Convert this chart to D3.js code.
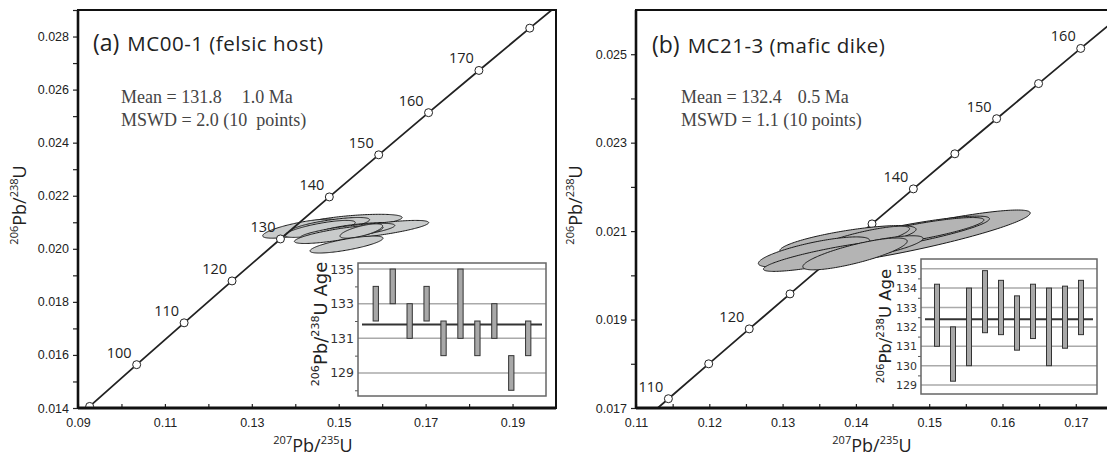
<!DOCTYPE html>
<html><head><meta charset="utf-8">
<script src="https://cdn.jsdelivr.net/npm/d3@7/dist/d3.min.js"></script>
<style>
body{margin:0;background:#fff}
svg{display:block}
text{font-family:"Liberation Sans",Arial,sans-serif}
.pre{white-space:pre}
</style></head><body>
<svg id="chart" width="1107" height="459"></svg>
<script>
// ---------- data ----------
// concordia reference points, panel a
var concAgeA = [90,100,110,120,130,140,150,160,170,180,190];
var concXA = [0.09268,0.10350,0.11442,0.12545,0.13659,0.14784,0.15920,0.17067,0.18226,0.19396,0.20577];
var concYA = [0.014059,0.015633,0.017210,0.018789,0.020371,0.021955,0.023542,0.025131,0.026722,0.028316,0.029912];
var concLabelA = [100,110,120,130,140,150,160,170];
// concordia reference points, panel b
var concAgeB = [105,110,115,120,125,130,135,140,145,150,155,160,165];
var concXB = [0.10895,0.11442,0.11992,0.12545,0.13101,0.13659,0.14220,0.14784,0.15350,0.15920,0.16492,0.17067,0.17645];
var concYB = [0.016421,0.017210,0.017999,0.018789,0.019580,0.020371,0.021163,0.021955,0.022748,0.023542,0.024336,0.025131,0.025926];
var concLabelB = [110,120,140,150,160];

// error ellipses: centre 207/235, centre 206/238, err x, err y, rho
var ellXA   = [0.1531,0.1411,0.1480,0.1457,0.1549,0.1579,0.1520,0.1500,0.1552,0.1518];
var ellYA   = [0.02103,0.02076,0.02088,0.02075,0.02075,0.02071,0.02065,0.02054,0.02067,0.02016];
var ellEXA  = [0.0115,0.0086,0.0091,0.0081,0.0092,0.0128,0.0109,0.0102,0.0049,0.0084];
var ellEYA  = [0.00027,0.00036,0.00030,0.00032,0.00024,0.00036,0.00031,0.00034,0.00027,0.00032];
var ellRhoA = [0.55,0.75,0.72,0.75,0.62,0.77,0.74,0.77,0.70,0.75];

var ellXB   = [0.14806,0.14643,0.14834,0.13892,0.14070,0.13251,0.13428,0.13688,0.14261,0.13988];
var ellYB   = [0.020857,0.020914,0.020982,0.020800,0.020801,0.020529,0.020529,0.020439,0.020620,0.020484];
var ellEXB  = [0.01572,0.01179,0.00912,0.00929,0.00662,0.00232,0.00759,0.00950,0.00655,0.00712];
var ellEYB  = [0.000620,0.000425,0.000325,0.000325,0.000310,0.0000950,0.000340,0.000350,0.000275,0.000360];
var ellRhoB = [0.89,0.86,0.83,0.74,0.82,0.20,0.76,0.85,0.78,0.80];

// 206Pb/238U ages (inset bars)
var ageLoA = [132,133,131,132,130,131,130,131,128,130];
var ageHiA = [134,135,133,134,132,135,132,133,130,132];
var meanA = 131.8;
var ageLoB = [131.0,129.2,130.0,131.7,131.6,130.8,131.4,130.0,130.9,131.6];
var ageHiB = [134.2,132.0,134.0,134.9,134.4,133.6,134.2,134.0,134.1,134.4];
var meanB = 132.4;

// tick labels
var xTickA = [0.09,0.11,0.13,0.15,0.17,0.19];
var yTickA = [0.014,0.016,0.018,0.020,0.022,0.024,0.026,0.028];
var xTickB = [0.11,0.12,0.13,0.14,0.15,0.16,0.17];
var yTickB = [0.017,0.019,0.021,0.023,0.025];
var insetTickA = [129,131,133,135];
var insetTickB = [129,130,131,132,133,134,135];

var svg = d3.select("#chart");

function supText(g, parts, size, supSize){
  // parts: [["206",true],["Pb/",false],...]
  parts.forEach(function(p, i){
    var prev = i > 0 && parts[i-1][1];
    g.append("tspan")
      .style("font-size", (p[1] ? supSize : size) + "px")
      .attr("dy", p[1] ? (prev ? 0 : -size*0.42) : (prev ? size*0.42 : 0))
      .text(p[0]);
  });
}

function ellPath(x, y, cx, cy, ex, ey, r){
  var px = x(cx), py = y(cy);
  var kx = Math.abs(x(cx + ex) - px), ky = Math.abs(y(cy + ey) - py);
  var q = Math.sqrt(1 - r*r);
  var pts = d3.range(0, 2*Math.PI, Math.PI/90).map(function(t){
    return [px + kx*Math.cos(t), py - ky*(r*Math.cos(t) + q*Math.sin(t))];
  });
  return d3.line().curve(d3.curveLinearClosed)(pts);
}

function drawPanel(c){
  var x = d3.scaleLinear().domain(c.xd).range([c.l, c.r]);
  var y = d3.scaleLinear().domain(c.yd).range([c.b, c.t]);
  var g = svg.append("g");

  g.append("clipPath").attr("id", "clip" + c.id)
    .append("rect").attr("x", c.l).attr("y", c.t).attr("width", c.r - c.l).attr("height", c.b - c.t);

  var plot = g.append("g").attr("clip-path", "url(#clip" + c.id + ")");
  var conc = c.cAge.map(function(a, i){ return {age: a, x: c.cX[i], y: c.cY[i]}; });
  var ells = c.eX.map(function(v, i){ return {x: v, y: c.eY[i], ex: c.eEX[i], ey: c.eEY[i], r: c.eR[i]}; });

  function drawLine(){
    plot.append("path").datum(conc)
      .attr("d", d3.line().x(function(d){ return x(d.x); }).y(function(d){ return y(d.y); }))
      .attr("fill", "none").attr("stroke", "#222").attr("stroke-width", 1.8);
  }
  function drawCircles(){
    plot.selectAll(null).data(conc).enter().append("circle")
      .attr("cx", function(d){ return x(d.x); }).attr("cy", function(d){ return y(d.y); })
      .attr("r", 4).attr("fill", "#fff").attr("stroke", "#222").attr("stroke-width", 1);
  }
  function drawEllipses(){
    plot.selectAll(null).data(ells).enter().append("path")
      .attr("d", function(d){ return ellPath(x, y, d.x, d.y, d.ex, d.ey, d.r); })
      .attr("fill", c.ellFill).attr("stroke", "#1a1a1a").attr("stroke-width", 1);
  }
  if (c.lineOver){ drawEllipses(); drawLine(); drawCircles(); }
  else { drawLine(); drawCircles(); drawEllipses(); }

  // age labels on concordia
  g.selectAll(null).data(conc.filter(function(d){ return c.labels.indexOf(d.age) >= 0; }))
    .enter().append("text")
    .attr("x", function(d){ return x(d.x) - 5; })
    .attr("y", function(d){ return y(d.y) - 7; })
    .attr("text-anchor", "end")
    .style("font-family", "'Open Sans',sans-serif").style("font-size", "14.5px").attr("fill", "#222")
    .text(function(d){ return d.age; });

  // axes
  var xa = g.append("g").attr("transform", "translate(0," + c.b + ")")
    .call(d3.axisBottom(x).tickValues(c.xMinor).tickFormat("").tickSize(-4));
  var xl = g.append("g").attr("transform", "translate(0," + c.b + ")")
    .call(d3.axisBottom(x).tickValues(c.xTicks).tickFormat(d3.format(c.xFmt)).tickSize(-4).tickPadding(10));
  var ya = g.append("g").attr("transform", "translate(" + c.l + ",0)")
    .call(d3.axisLeft(y).tickValues(c.yMinor).tickFormat("").tickSize(5));
  var yl = g.append("g").attr("transform", "translate(" + c.l + ",0)")
    .call(d3.axisLeft(y).tickValues(c.yTicks).tickFormat(d3.format(".3f")).tickSize(5).tickPadding(4));
  [xa, xl, ya, yl].forEach(function(a){
    a.select(".domain").remove();
    a.selectAll("line").attr("stroke", "#222").attr("stroke-width", 1.2);
    a.selectAll("text").style("font-size", "12.5px").attr("fill", "#222")
      .style("font-family", "'Liberation Sans',Arial,sans-serif");
  });

  // frame
  g.append("rect").attr("x", c.l).attr("y", c.t).attr("width", c.r - c.l).attr("height", c.b - c.t)
    .attr("fill", "none").attr("stroke", "#111").attr("stroke-width", 2);
  g.append("line").attr("x1", c.l).attr("x2", c.r).attr("y1", c.b).attr("y2", c.b)
    .attr("stroke", "#111").attr("stroke-width", 2.8);
  g.append("line").attr("x1", c.l).attr("x2", c.l).attr("y1", c.t).attr("y2", c.b)
    .attr("stroke", "#111").attr("stroke-width", 2.6);

  // axis titles
  var xt = g.append("text").attr("x", c.xTitleX).attr("y", 452).attr("text-anchor", "middle")
    .attr("fill", "#222").style("font-family", "'Open Sans',sans-serif");
  supText(xt, [["207", true], ["Pb/", false], ["235", true], ["U", false]], 18, 11);
  var yt = g.append("text").attr("transform", "translate(" + c.yTitleX + ",205) rotate(-90)")
    .attr("text-anchor", "middle").attr("fill", "#222").style("font-family", "'Open Sans',sans-serif");
  supText(yt, [["206", true], ["Pb/", false], ["238", true], ["U", false]], 18, 11);

  // title and statistics
  var tt = g.append("text").attr("x", c.titleX).attr("y", c.titleY).attr("fill", "#222")
    .style("font-family", "'Open Sans',sans-serif");
  tt.append("tspan").style("font-size", "23px").text(c.tag);
  tt.append("tspan").attr("dx", 8).style("font-size", "20.5px").style("letter-spacing", "0.5px").text(c.title);
  var st = g.append("text").attr("x", c.statX).attr("y", c.statY).attr("fill", "#444")
    .style("font-family", "'Liberation Serif','Times New Roman',serif").style("font-size", "18px");
  st.append("tspan").text(c.mean1);
  st.append("tspan").attr("dx", c.gap).text(c.mean2);
  g.append("text").attr("class", "pre").attr("x", c.statX).attr("y", c.statY + 23).attr("fill", "#444")
    .style("font-family", "'Liberation Serif','Times New Roman',serif").style("font-size", "18px")
    .text(c.mswd);

  // inset
  var ib = c.inset;
  var iy = d3.scaleLinear().domain(ib.yd).range([ib.b, ib.t]);
  var ix = d3.scalePoint().domain(d3.range(c.lo.length)).range([ib.l, ib.r]).padding(ib.pad);
  var ig = g.append("g");
  ig.append("rect").attr("x", ib.l).attr("y", ib.t).attr("width", ib.r - ib.l).attr("height", ib.b - ib.t)
    .attr("fill", "#fff");
  ig.selectAll(null).data(c.iTicks).enter().append("line")
    .attr("x1", ib.l).attr("x2", ib.r).attr("y1", function(d){ return iy(d); }).attr("y2", function(d){ return iy(d); })
    .attr("stroke", "#aaa").attr("stroke-width", 1.5);
  var ia = ig.append("g").attr("transform", "translate(" + ib.l + ",0)")
    .call(d3.axisLeft(iy).tickValues(c.iTicks).tickFormat(d3.format("d")).tickSize(0).tickPadding(4));
  ia.select(".domain").remove();
  ia.selectAll("text").style("font-size", ib.fs + "px").attr("fill", "#333")
    .style("font-family", "'DejaVu Sans',sans-serif");
  var im = ig.append("g").attr("transform", "translate(" + ib.l + ",0)")
    .call(d3.axisLeft(iy).tickValues(ib.minor).tickFormat("").tickSize(3));
  im.select(".domain").remove();
  im.selectAll("line").attr("stroke", "#555");
  ig.append("line").attr("x1", ib.l + 4).attr("x2", ib.r - 4).attr("y1", iy(c.mean)).attr("y2", iy(c.mean))
    .attr("stroke", "#333").attr("stroke-width", 2);
  ig.selectAll(null).data(c.lo).enter().append("rect")
    .attr("x", function(d, i){ return ix(i) - ib.bw/2; })
    .attr("width", ib.bw)
    .attr("y", function(d, i){ return iy(c.hi[i]); })
    .attr("height", function(d, i){ return iy(d) - iy(c.hi[i]); })
    .attr("fill", "#a8a8a8").attr("stroke", "#333").attr("stroke-width", 1);
  ig.append("rect").attr("x", ib.l).attr("y", ib.t).attr("width", ib.r - ib.l).attr("height", ib.b - ib.t)
    .attr("fill", "none").attr("stroke", "#666").attr("stroke-width", 1.5);
  var il = ig.append("text").attr("transform", "translate(" + ib.labX + "," + ib.labY + ") rotate(-90)")
    .attr("text-anchor", "middle").attr("fill", "#222").style("font-family", "'DejaVu Sans',sans-serif");
  supText(il, [["206", true], ["Pb/", false], ["238", true], ["U Age", false]], ib.lfs, ib.lfs * 0.62);
}

drawPanel({
  id: "a", l: 78, r: 556, t: 10, b: 408, xd: [0.09, 0.2], yd: [0.014, 0.029],
  cAge: concAgeA, cX: concXA, cY: concYA, labels: concLabelA,
  eX: ellXA, eY: ellYA, eEX: ellEXA, eEY: ellEYA, eR: ellRhoA, ellFill: "#c9cbcb", lineOver: true,
  xTicks: xTickA, xMinor: d3.range(0.10, 0.2, 0.02), xFmt: ".2f",
  yTicks: yTickA, yMinor: d3.range(0.015, 0.029, 0.002),
  xTitleX: 313, yTitleX: 26,
  tag: "(a)", title: "MC00-1 (felsic host)", titleX: 93, titleY: 51,
  mean1: "Mean = 131.8", mean2: "1.0 Ma", gap: 20, mswd: "MSWD = 2.0 (10  points)", statX: 121, statY: 103,
  lo: ageLoA, hi: ageHiA, mean: meanA, iTicks: insetTickA,
  inset: {l: 358, r: 546, t: 263, b: 396, yd: [127.67, 135.35], pad: 1.05, bw: 5.3, fs: 12.5,
          minor: [128, 130, 132, 134], labX: 327, labY: 324, lfs: 18}
});

drawPanel({
  id: "b", l: 636, r: 1110, t: 10, b: 408, xd: [0.11, 0.11 + 474/7330], yd: [0.017, 0.026],
  cAge: concAgeB, cX: concXB, cY: concYB, labels: concLabelB,
  eX: ellXB, eY: ellYB, eEX: ellEXB, eEY: ellEYB, eR: ellRhoB, ellFill: "#b4b4b4", lineOver: false,
  xTicks: xTickB, xMinor: d3.range(0.115, 0.175, 0.01), xFmt: ".2f",
  yTicks: yTickB, yMinor: d3.range(0.018, 0.026, 0.002),
  xTitleX: 872, yTitleX: 582,
  tag: "(b)", title: "MC21-3 (mafic dike)", titleX: 652, titleY: 53,
  mean1: "Mean = 132.4", mean2: "0.5 Ma", gap: 16, mswd: "MSWD = 1.1 (10 points)", statX: 681, statY: 103,
  lo: ageLoB, hi: ageHiB, mean: meanB, iTicks: insetTickB,
  inset: {l: 921, r: 1097, t: 259, b: 394, yd: [128.54, 135.5], pad: 1.0, bw: 5, fs: 11,
          minor: [129.5, 130.5, 131.5, 132.5, 133.5, 134.5], labX: 891, labY: 326, lfs: 16.5}
});
</script>
</body></html>
